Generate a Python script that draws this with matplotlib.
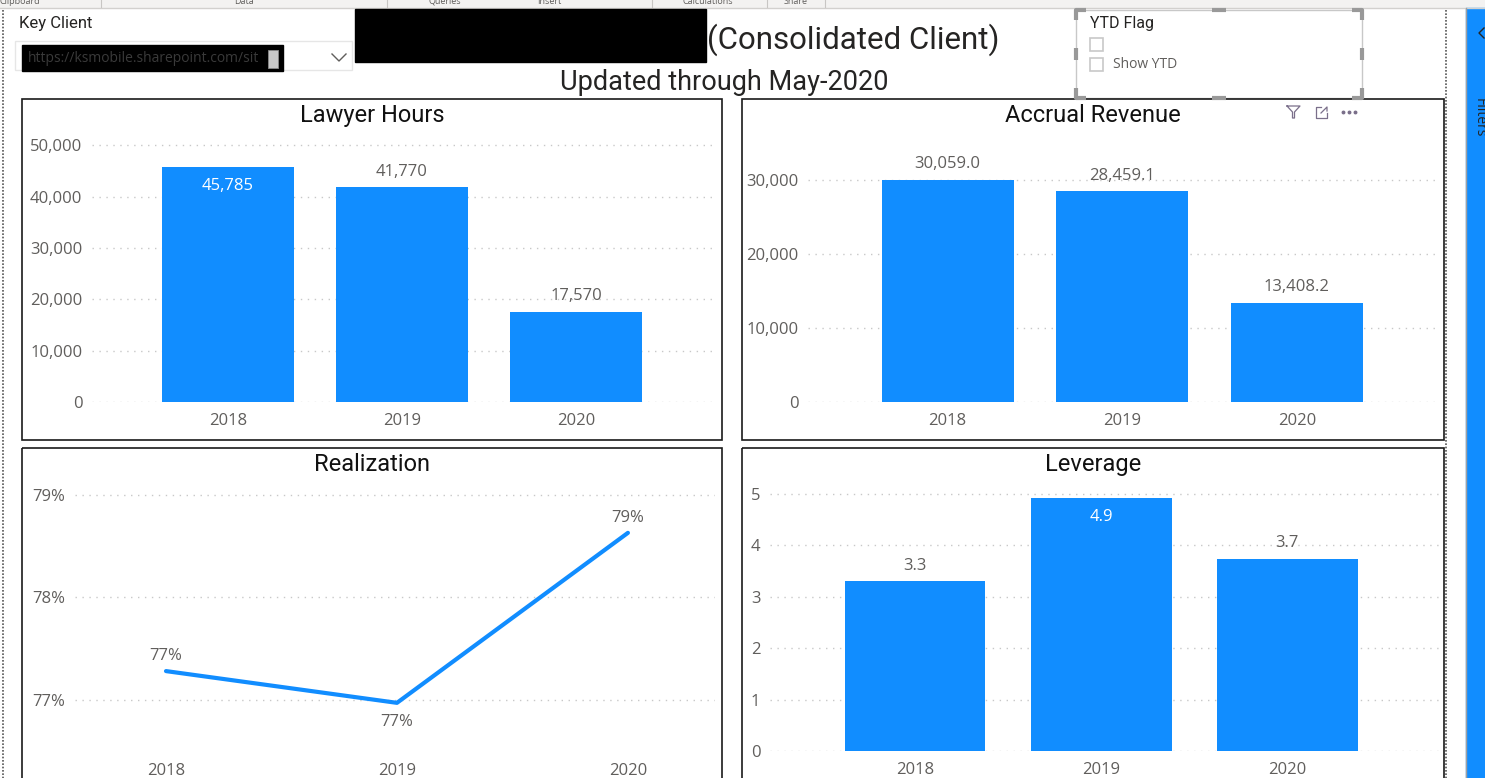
import matplotlib
matplotlib.use("Agg")
import matplotlib.pyplot as plt
from matplotlib.patches import Rectangle
from matplotlib.ticker import FuncFormatter

# Data
years = ["2018", "2019", "2020"]
lawyer_hours = [45785, 41770, 17570]
accrual_revenue = [30059.0, 28459.1, 13408.2]
realization = [77.28, 76.97, 78.63]
leverage = [3.3, 4.92, 3.74]

lawyer_ticks = [0, 10000, 20000, 30000, 40000, 50000]
accrual_ticks = [0, 10000, 20000, 30000]
realization_ticks = [77, 78, 79]
leverage_ticks = [0, 1, 2, 3, 4, 5]

ribbon_groups = ["Clipboard", "Data", "Queries", "Insert", "Calculations", "Share"]

# Styles
W, H = 1485, 778
BLUE = "#118DFF"
GREY = "#605E5C"
GRID = "#C8C8C8"
TITLE_FONT = ["Roboto", "DejaVu Sans"]
BODY_FONT = ["Open Sans", "DejaVu Sans"]

fig = plt.figure(figsize=(W / 100, H / 100), dpi=100)
fig.patch.set_facecolor("white")


def px_rect(x0, y0, x1, y1):
    """Convert pixel box (top-left origin) to figure fraction rect."""
    return [x0 / W, 1 - y1 / H, (x1 - x0) / W, (y1 - y0) / H]


# background layer in pixel coordinates
bg = fig.add_axes([0, 0, 1, 1], zorder=0)
bg.set_xlim(0, W)
bg.set_ylim(H, 0)
bg.axis("off")

# ribbon strip at the top (group names are cut off by the window edge)
bg.add_patch(Rectangle((0, 0), W, 7, color="#F3F2F1", zorder=1))
bg.plot([0, W], [7.5, 7.5], color="#D2D0CE", lw=1, zorder=2)
for name, xc in zip(ribbon_groups, [20, 244, 445, 549, 708, 796]):
    bg.text(xc, 1, name, ha="center", va="center", fontsize=6.5, color="#605E5C",
            family=BODY_FONT, zorder=2)
for xs in [101, 387, 652, 767, 825]:
    bg.plot([xs, xs], [0, 7], color="#C8C6C4", lw=0.8, zorder=2)

# page edges
bg.plot([3, 3], [10, H], color="#555555", lw=1.2, ls=(0, (1, 1)))
bg.plot([1446, 1446], [10, H], color="#555555", lw=1.2, ls=(0, (1, 1)))
bg.add_patch(Rectangle((1466, 8), 19, H, color=BLUE, zorder=1))
bg.plot([1466, 1466], [8, H], color="#A0A0A0", lw=1)
bg.text(1479, 118, "Filters", rotation=-90, ha="center", va="center", fontsize=10,
        color="#252423", family=BODY_FONT, zorder=3)
bg.plot([1484, 1479, 1484], [28, 33, 38], color="#252423", lw=1, zorder=3)

# key client slicer
bg.text(19, 23, "Key Client", ha="left", va="center", fontsize=12, color="#252423",
        family=TITLE_FONT)
bg.add_patch(Rectangle((15, 41), 337, 29, fill=False, ec="#E6E6E6", lw=1))
bg.add_patch(Rectangle((22, 45), 261, 26, color="black", zorder=2))
bg.text(28, 58, "https://ksmobile.sharepoint.com/sit", ha="left", va="center", fontsize=10,
        color="#3A3A3A", family=BODY_FONT, zorder=3)
bg.add_patch(Rectangle((268, 50), 10, 18, fc="#C8C8C8", ec="#8A8A8A", lw=0.6, zorder=3))
bg.plot([332, 339, 346], [54, 61, 54], color="#605E5C", lw=1)

# report title
bg.add_patch(Rectangle((355, 9), 351, 53, color="black", zorder=2))
bg.text(707, 40, "(Consolidated Client)", ha="left", va="center", fontsize=22.5,
        color="#252423", family=TITLE_FONT)
bg.text(724, 82, "Updated through May-2020", ha="center", va="center", fontsize=19.5,
        color="#252423", family=TITLE_FONT)

# YTD flag slicer with selection handles
bg.add_patch(Rectangle((1076, 10), 286, 88, fill=False, ec="#C8C8C8", lw=1))
hk = dict(color="#999999", lw=3, solid_capstyle="butt", zorder=3)
for cx, cy, dx, dy in [(1076, 10, 1, 1), (1362, 10, -1, 1), (1076, 98, 1, -1), (1362, 98, -1, -1)]:
    bg.plot([cx, cx, cx + 10 * dx], [cy + 10 * dy, cy, cy], **hk)
bg.plot([1212, 1226], [10, 10], **hk)
bg.plot([1212, 1226], [98, 98], **hk)
bg.plot([1076, 1076], [48, 60], **hk)
bg.plot([1362, 1362], [48, 60], **hk)
bg.text(1090, 23, "YTD Flag", ha="left", va="center", fontsize=11.5, color="#252423",
        family=TITLE_FONT)
for cy in [44, 64]:
    bg.add_patch(Rectangle((1090, cy - 6), 13, 13, fill=False, ec="#C8C8C8", lw=1.2))
bg.text(1113, 64, "Show YTD", ha="left", va="center", fontsize=10, color="#605E5C",
        family=BODY_FONT)

# visual containers
panels = [
    ("Lawyer Hours", (22, 99, 722, 440)),
    ("Accrual Revenue", (742, 99, 1444, 440)),
    ("Realization", (22, 448, 722, 790)),
    ("Leverage", (742, 448, 1444, 790)),
]
for title, (x0, y0, x1, y1) in panels:
    bg.add_patch(Rectangle((x0, y0), x1 - x0, y1 - y0, fill=False, ec="#1A1A1A", lw=1.2))
    bg.text((x0 + x1) / 2, y0 + 16, title, ha="center", va="center", fontsize=17,
            color="#111111", family=TITLE_FONT)

# visual header icons on Accrual Revenue
bg.plot([1287, 1300, 1294.5, 1294.5, 1292.5, 1292.5, 1287], [106, 106, 112, 118, 118, 112, 106],
        color="#7A6F8A", lw=0.9)
bg.plot([1321, 1316, 1316, 1327, 1327], [107, 107, 118, 118, 113], color="#7A6F8A", lw=0.9)
bg.plot([1321, 1327, 1327], [113, 107, 111], color="#7A6F8A", lw=0.9)
bg.plot([1343, 1349, 1355], [112, 112, 112], ls="none", marker="o", ms=1.8, color="#7A6F8A")


def style_axis(ax, ticks, fmt):
    ax.set_facecolor("none")
    for s in ax.spines.values():
        s.set_visible(False)
    ax.set_yticks(ticks)
    ax.yaxis.set_major_formatter(FuncFormatter(fmt))
    ax.grid(axis="y", color=GRID, lw=1, ls=(0, (1, 4)))
    ax.set_axisbelow(True)
    ax.tick_params(axis="both", length=0, labelsize=12, labelcolor=GREY)
    ax.tick_params(axis="y", pad=7)
    ax.tick_params(axis="x", pad=8)
    for lab in ax.get_xticklabels() + ax.get_yticklabels():
        lab.set_family(BODY_FONT)


def bar_panel(rect, values, ticks, ylim, xlim, fmt, label_fmt, inside):
    ax = fig.add_axes(px_rect(*rect), zorder=2)
    x = list(range(len(years)))
    ax.bar(x, values, width=0.755, color=BLUE)
    ax.set_xticks(x)
    ax.set_xticklabels(years)
    ax.set_xlim(*xlim)
    ax.set_ylim(*ylim)
    style_axis(ax, ticks, fmt)
    for xi, v, ins in zip(x, values, inside):
        if ins:
            ax.annotate(label_fmt(v), (xi, v), xytext=(0, -14), textcoords="offset points",
                        ha="center", va="center", fontsize=12, color="white", family=BODY_FONT)
        else:
            ax.annotate(label_fmt(v), (xi, v), xytext=(0, 11), textcoords="offset points",
                        ha="center", va="center", fontsize=12, color=GREY, family=BODY_FONT)
    return ax


bar_panel((92, 140, 715, 402), lawyer_hours, lawyer_ticks, (0, 51000), (-0.782, 2.799),
          lambda v, p: f"{v:,.0f}", lambda v: f"{v:,.0f}", [True, False, False])
bar_panel((808, 140, 1440, 402), accrual_revenue, accrual_ticks, (0, 35400), (-0.80, 2.82),
          lambda v, p: f"{v:,.0f}", lambda v: f"{v:,.1f}", [False, False, False])
bar_panel((770, 484, 1440, 751), leverage, leverage_ticks, (0, 5.19), (-0.78, 2.82),
          lambda v, p: f"{v:.0f}", lambda v: f"{v:.1f}", [False, True, False])

# Realization line
ax = fig.add_axes(px_rect(75, 480, 715, 752), zorder=2)
x = list(range(len(years)))
ax.plot(x, realization, color=BLUE, lw=3, solid_capstyle="round")
ax.set_xticks(x)
ax.set_xticklabels(years)
ax.set_xlim(-0.394, 2.377)
ax.set_ylim(76.49, 79.146)
style_axis(ax, realization_ticks, lambda v, p: f"{v:.0f}%")
for xi, v, off in zip(x, realization, [11, -14, 11]):
    ax.annotate(f"{v:.0f}%", (xi, v), xytext=(0, off), textcoords="offset points",
                ha="center", va="center", fontsize=12, color=GREY, family=BODY_FONT)

fig.savefig("out.png", dpi=100)
